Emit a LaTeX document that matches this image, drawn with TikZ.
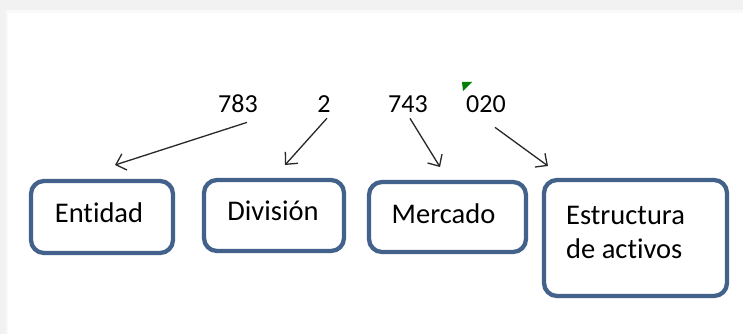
\documentclass[tikz,border=0pt]{standalone}
\usepackage{fontspec}
\setmainfont{Carlito}[Ligatures=NoCommon]
\usetikzlibrary{arrows.meta}
\definecolor{boxblue}{RGB}{66,98,140}
\definecolor{arrowgray}{RGB}{40,40,40}
\definecolor{flag}{RGB}{0,128,0}
\tikzset{
  box/.style={draw=boxblue, line width=4.3pt, rounded corners=13pt, fill=white, inner sep=0pt},
  lbl/.style={inner sep=0pt, font=\fontsize{28.5}{34}\selectfont, text=black},
  num/.style={inner sep=0pt, anchor=base, font=\fontsize{26}{30}\selectfont, text=black},
  pointer/.style={draw=arrowgray, line width=1.3pt, -{Straight Barb[length=9pt,width=17pt,line width=1.3pt]}}
}
\begin{document}
\begin{tikzpicture}[x=1pt,y=-1pt]
\useasboundingbox (0,0) rectangle (743,334);
% page background
\fill[gray!10] (0,0) rectangle (743,334);
\fill[gray!5] (6,10) rectangle (743,334);
\fill[white] (8,13) rectangle (743,334);
% boxes
\node[box, minimum width=142pt, minimum height=72pt] (b1) at (102,217) {};
\node[box, minimum width=140pt, minimum height=71pt] (b2) at (274,215.5) {};
\node[box, minimum width=157pt, minimum height=70pt] (b3) at (447.5,217) {};
\node[box, minimum width=183pt, minimum height=116pt] (b4) at (635.5,238) {};
% labels
\node[lbl, anchor=base] (t1) at (99,222) {Entidad};
\node[lbl, anchor=base] (t2) at (273,220) {División};
\node[lbl, anchor=base] (t3) at (443.5,223) {Mercado};
\node[lbl, anchor=base west] (t4a) at (566,224) {Estructura};
\node[lbl, anchor=base west] (t4b) at (566,258) {de activos};
% numbers
\node[num] (n1) at (238,112) {783};
\node[num] (n2) at (324,112) {2};
\node[num] (n3) at (408,112) {743};
\node[num] (n4) at (486,112) {020};
% green marker
\fill[flag] (462,82) -- (472,82) -- (463,91) -- cycle;
% arrow end points
\coordinate (e1) at (115,165);
\coordinate (e2) at (285,165);
\coordinate (e3) at (440,167);
\coordinate (e4) at (548,166);
\draw[pointer] ([xshift=9pt,yshift=-10pt]n1.south) -- (e1);
\draw[pointer] ([xshift=3pt,yshift=-6pt]n2.south) -- (e2);
\draw[pointer] ([xshift=2pt,yshift=-6pt]n3.south) -- (e3);
\draw[pointer] ([xshift=9pt,yshift=-15pt]n4.south) -- (e4);
\end{tikzpicture}
\end{document}
